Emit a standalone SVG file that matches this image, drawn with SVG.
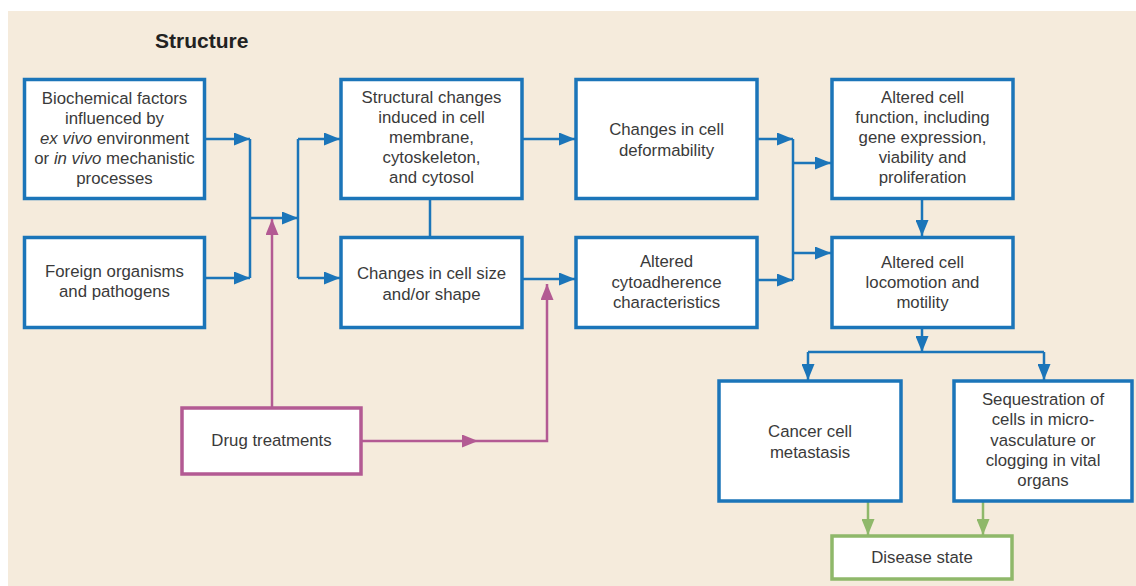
<svg xmlns="http://www.w3.org/2000/svg" width="1136" height="586" viewBox="0 0 1136 586">
<defs>
<style>
.bg{fill:#f5ebdc}
.nb{fill:#fff;stroke:#1b75b9;stroke-width:3.5}
.np{fill:#fff;stroke:#b35a93;stroke-width:3.5}
.ng{fill:#fff;stroke:#8fb86a;stroke-width:3.5}
text{font-family:"Liberation Sans",Arial,sans-serif;font-size:16.8px;fill:#3a3a3a;text-anchor:middle}
.title{font-weight:bold;font-size:21px;fill:#222;text-anchor:start}
.cb{fill:none;stroke:#1b75b9;stroke-width:2.5}
.cp{fill:none;stroke:#b35a93;stroke-width:2.5}
.cg{fill:none;stroke:#8fb86a;stroke-width:2.5}
</style>
<marker id="ab" markerUnits="userSpaceOnUse" markerWidth="16" markerHeight="13" refX="16" refY="6.5" orient="auto"><path d="M0,0 L16,6.5 L0,13 z" fill="#1b75b9"/></marker>
<marker id="ap" markerUnits="userSpaceOnUse" markerWidth="16" markerHeight="13" refX="16" refY="6.5" orient="auto"><path d="M0,0 L16,6.5 L0,13 z" fill="#b35a93"/></marker>
<marker id="ag" markerUnits="userSpaceOnUse" markerWidth="16" markerHeight="13" refX="16" refY="6.5" orient="auto"><path d="M0,0 L16,6.5 L0,13 z" fill="#8fb86a"/></marker>
</defs>
<rect x="0" y="0" width="1136" height="586" fill="#fff"/>
<rect class="bg" x="8" y="11" width="1128" height="575"/>
<text class="title" x="155" y="48">Structure</text>

<g id="connectors">
<path class="cb" d="M205,139 H250" marker-end="url(#ab)"/>
<path class="cb" d="M205,278 H250" marker-end="url(#ab)"/>
<path class="cb" d="M250,139 V278"/>
<path class="cb" d="M250,218 H298" marker-end="url(#ab)"/>
<path class="cb" d="M298,139 V278"/>
<path class="cb" d="M298,139 H340" marker-end="url(#ab)"/>
<path class="cb" d="M298,278 H340" marker-end="url(#ab)"/>
<path class="cb" d="M430,199 V237"/>
<path class="cb" d="M523,139 H575" marker-end="url(#ab)"/>
<path class="cb" d="M523,279 H575" marker-end="url(#ab)"/>
<path class="cb" d="M758,139 H793" marker-end="url(#ab)"/>
<path class="cb" d="M758,280 H793" marker-end="url(#ab)"/>
<path class="cb" d="M793,139 V280"/>
<path class="cb" d="M793,163 H831" marker-end="url(#ab)"/>
<path class="cb" d="M793,253 H831" marker-end="url(#ab)"/>
<path class="cb" d="M922,199 V236" marker-end="url(#ab)"/>
<path class="cb" d="M922,328 V352" marker-end="url(#ab)"/>
<path class="cb" d="M808,352 H1044"/>
<path class="cb" d="M808,352 V380" marker-end="url(#ab)"/>
<path class="cb" d="M1044,352 V380" marker-end="url(#ab)"/>
<path class="cg" d="M868,502 V535" marker-end="url(#ag)"/>
<path class="cg" d="M983,502 V535" marker-end="url(#ag)"/>
<path class="cp" d="M272,407 V219" marker-end="url(#ap)"/>
<path class="cp" d="M362,441 H478" marker-end="url(#ap)"/>
<path class="cp" d="M478,441 H547 V284" marker-end="url(#ap)"/>
</g>

<g id="biochemical">
<rect class="nb" x="24.5" y="79.5" width="180" height="119"/>
<text x="114.5" y="104">Biochemical factors</text>
<text x="114.5" y="124">influenced by</text>
<text x="114.5" y="144"><tspan font-style="italic">ex vivo</tspan> environment</text>
<text x="114.5" y="164">or <tspan font-style="italic">in vivo</tspan> mechanistic</text>
<text x="114.5" y="184">processes</text>
</g>

<g id="foreign">
<rect class="nb" x="24.5" y="237.5" width="180" height="90"/>
<text x="114.5" y="277">Foreign organisms</text>
<text x="114.5" y="297">and pathogens</text>
</g>

<g id="structural">
<rect class="nb" x="341" y="79.5" width="181" height="119"/>
<text x="431.5" y="103">Structural changes</text>
<text x="431.5" y="123">induced in cell</text>
<text x="431.5" y="143">membrane,</text>
<text x="431.5" y="163">cytoskeleton,</text>
<text x="431.5" y="183">and cytosol</text>
</g>

<g id="size">
<rect class="nb" x="341" y="237.5" width="181" height="90"/>
<text x="431.5" y="279">Changes in cell size</text>
<text x="431.5" y="300">and/or shape</text>
</g>

<g id="deformability">
<rect class="nb" x="576" y="79.5" width="181" height="119"/>
<text x="666.5" y="135">Changes in cell</text>
<text x="666.5" y="156">deformability</text>
</g>

<g id="cytoadherence">
<rect class="nb" x="576" y="237.5" width="181" height="90"/>
<text x="666.5" y="267">Altered</text>
<text x="666.5" y="288">cytoadherence</text>
<text x="666.5" y="308">characteristics</text>
</g>

<g id="function">
<rect class="nb" x="832" y="79.5" width="181" height="119"/>
<text x="922.5" y="103">Altered cell</text>
<text x="922.5" y="123">function, including</text>
<text x="922.5" y="143">gene expression,</text>
<text x="922.5" y="163">viability and</text>
<text x="922.5" y="183">proliferation</text>
</g>

<g id="locomotion">
<rect class="nb" x="832" y="237.5" width="181" height="90"/>
<text x="922.5" y="268">Altered cell</text>
<text x="922.5" y="288">locomotion and</text>
<text x="922.5" y="308">motility</text>
</g>

<g id="metastasis">
<rect class="nb" x="719" y="381" width="182" height="120"/>
<text x="810" y="437">Cancer cell</text>
<text x="810" y="458">metastasis</text>
</g>

<g id="sequestration">
<rect class="nb" x="954" y="381" width="178" height="120"/>
<text x="1043" y="405">Sequestration of</text>
<text x="1043" y="425">cells in micro-</text>
<text x="1043" y="446">vasculature or</text>
<text x="1043" y="466">clogging in vital</text>
<text x="1043" y="486">organs</text>
</g>

<g id="drug">
<rect class="np" x="182" y="408" width="179" height="66"/>
<text x="271.5" y="446">Drug treatments</text>
</g>

<g id="disease">
<rect class="ng" x="832" y="536" width="180" height="43"/>
<text x="922" y="563">Disease state</text>
</g>
</svg>
